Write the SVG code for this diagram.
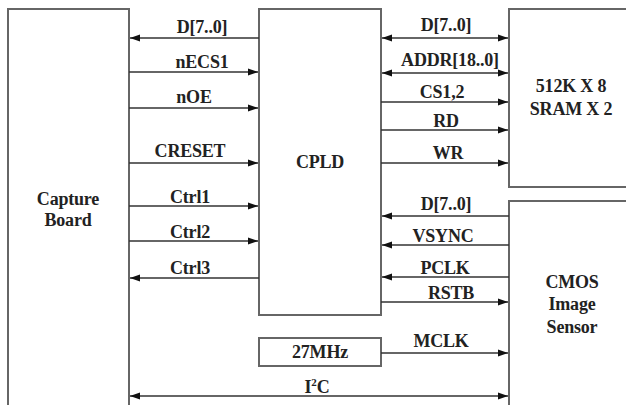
<svg xmlns="http://www.w3.org/2000/svg" width="626" height="405" viewBox="0 0 626 405">
<defs>
<marker id="ah" markerUnits="userSpaceOnUse" markerWidth="11" markerHeight="8" refX="10" refY="4" orient="auto-start-reverse">
<path d="M0,0.5 L10,4 L0,7.5 z" fill="#111"/>
</marker>
<style>
.box{fill:#fff;stroke:#666;stroke-width:2}
.ln{stroke:#333;stroke-width:1.6;fill:none}
.ar{marker-end:url(#ah)}
.bi{marker-start:url(#ah);marker-end:url(#ah)}
text{font-family:"Liberation Serif","Times New Roman",serif;font-weight:bold;font-size:18px;fill:#222;letter-spacing:-0.2px}
.c{text-anchor:middle}
</style>
</defs>
<rect width="626" height="405" fill="#fff"/>
<g id="capture">
<path class="box" d="M8,410 L8,9 L129,9 L129,410"/>
<text class="c" x="68" y="205">Capture</text>
<text class="c" x="68" y="226">Board</text>
</g>
<g id="cpld">
<rect class="box" x="259" y="9" width="122" height="306"/>
<text class="c" x="320" y="168">CPLD</text>
</g>
<g id="sram">
<path class="box" d="M630,9 L509,9 L509,187 L630,187"/>
<text class="c" x="571" y="92">512K X 8</text>
<text class="c" x="571" y="115">SRAM X 2</text>
</g>
<g id="cmos">
<path class="box" d="M630,201 L509,201 L509,410"/>
<text class="c" x="572" y="288">CMOS</text>
<text class="c" x="572" y="310">Image</text>
<text class="c" x="572" y="333">Sensor</text>
</g>
<g id="osc">
<rect class="box" x="259" y="338" width="122" height="28"/>
<text class="c" x="320" y="358">27MHz</text>
</g>
<g id="connectors">
<line class="ln ar" x1="259" y1="38" x2="130" y2="38"/>
<line class="ln ar" x1="129" y1="72" x2="258" y2="72"/>
<line class="ln ar" x1="129" y1="108" x2="258" y2="108"/>
<line class="ln ar" x1="129" y1="163" x2="258" y2="163"/>
<line class="ln ar" x1="129" y1="206" x2="258" y2="206"/>
<line class="ln ar" x1="129" y1="241" x2="258" y2="241"/>
<line class="ln ar" x1="259" y1="278" x2="130" y2="278"/>
<line class="ln bi" x1="130" y1="396" x2="508" y2="396"/>
<line class="ln bi" x1="382" y1="38" x2="508" y2="38"/>
<line class="ln bi" x1="382" y1="73" x2="508" y2="73"/>
<line class="ln ar" x1="381" y1="102" x2="508" y2="102"/>
<line class="ln ar" x1="381" y1="130" x2="508" y2="130"/>
<line class="ln ar" x1="381" y1="163" x2="508" y2="163"/>
<line class="ln ar" x1="509" y1="216" x2="382" y2="216"/>
<line class="ln ar" x1="509" y1="245" x2="382" y2="245"/>
<line class="ln ar" x1="509" y1="277" x2="382" y2="277"/>
<line class="ln ar" x1="381" y1="302" x2="508" y2="302"/>
<line class="ln ar" x1="381" y1="353" x2="508" y2="353"/>
<text class="c" x="202" y="33">D[7..0]</text>
<text class="c" x="202" y="68">nECS1</text>
<text class="c" x="194" y="103">nOE</text>
<text class="c" x="190" y="157">CRESET</text>
<text class="c" x="190" y="203">Ctrl1</text>
<text class="c" x="190" y="238">Ctrl2</text>
<text class="c" x="190" y="274">Ctrl3</text>
<text class="c" x="317" y="393">I<tspan font-size="11" dy="-7">2</tspan><tspan dy="7">C</tspan></text>
<text class="c" x="446" y="31">D[7..0]</text>
<text class="c" x="450" y="66">ADDR[18..0]</text>
<text class="c" x="442" y="98">CS1,2</text>
<text class="c" x="446" y="127">RD</text>
<text class="c" x="448" y="159">WR</text>
<text class="c" x="446" y="210">D[7..0]</text>
<text class="c" x="443" y="242">VSYNC</text>
<text class="c" x="445" y="274">PCLK</text>
<text class="c" x="451" y="299">RSTB</text>
<text class="c" x="441" y="347">MCLK</text>
</g>
</svg>
